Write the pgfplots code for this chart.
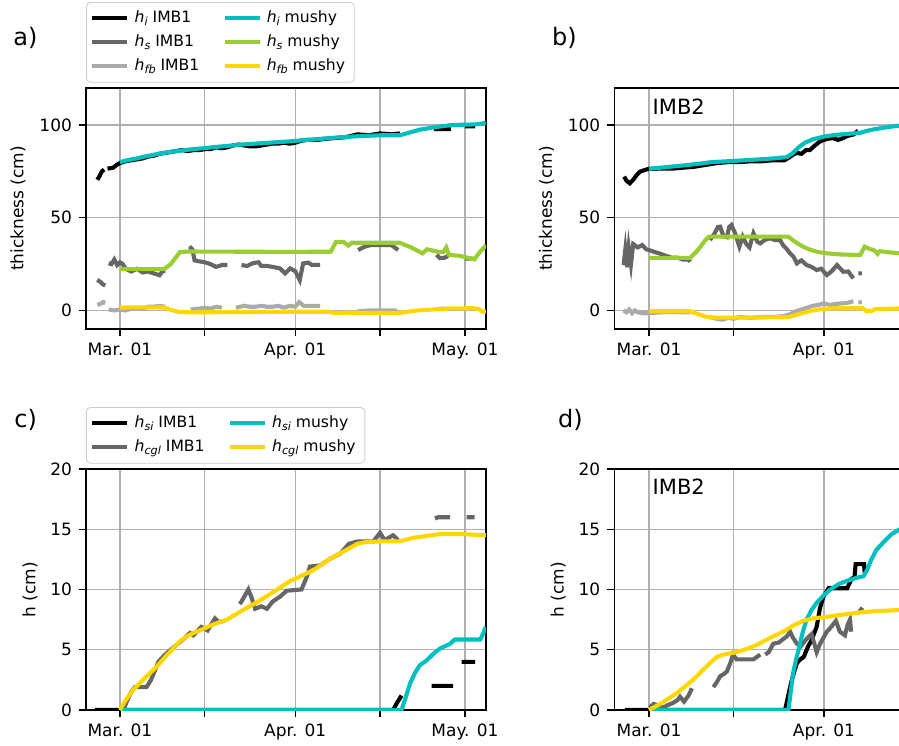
\documentclass[border=0pt]{standalone}
\usepackage{pgfplots}
\pgfplotsset{compat=1.18}
\usepackage{fontspec}
\setmainfont{DejaVu Sans}
\definecolor{imbdark}{HTML}{666666}
\definecolor{imblight}{HTML}{AAAAAA}
\definecolor{mcyan}{HTML}{00BFBF}
\definecolor{mgreen}{HTML}{9ACD32}
\definecolor{mgold}{HTML}{FFD700}
\definecolor{gridgray}{HTML}{B0B0B0}
\newcommand{\hsub}[1]{\textit{h}\raisebox{-0.3ex}{\fontsize{5.6}{6}\selectfont\textit{#1}}}
\pgfplotsset{
  mybase/.style={
    scale only axis,
    height=120.5pt,
    axis line style={line width=0.75pt},
    tick style={black, line width=0.6pt},
    tick align=outside,
    major tick length=3.5pt,
    xtick pos=lower, ytick pos=left,
    xtick={0,15,31,46,61},
    xticklabels={Mar. 01,,Apr. 01,,May. 01},
    grid=major,
    major grid style={gridgray, line width=0.7pt},
    ticklabel style={font=\fontsize{8.5}{10}\selectfont},
    label style={font=\fontsize{8.5}{10}\selectfont},
    /pgf/number format/assume math mode=true,
    unbounded coords=jump,
    every axis plot/.append style={line width=2.05pt, mark=none, forget plot},
    legend columns=2,
    legend cell align=left,
    legend style={at={(0,1)}, anchor=south west, yshift=2.7pt, draw=black!20,
      rounded corners=2pt, fill=white, font=\fontsize{7.8}{9}\selectfont,
      inner xsep=2pt, inner ysep=2.2pt, row sep=0.6pt,
      nodes={inner xsep=2.6pt},
      /tikz/every odd column/.append style={column sep=0pt},
      /tikz/every even column/.append style={column sep=9pt}},
    legend image code/.code={\draw[#1, line width=2.05pt] (0pt,0pt) -- (17.5pt,0pt);},
  },
  topax/.style={mybase, ymin=-10, ymax=120, ytick={0,50,100}, ylabel={thickness (cm)}},
  botax/.style={mybase, ymin=0, ymax=20, ytick={0,5,10,15,20}, ylabel={h (cm)}},
}
\begin{document}
\begin{tikzpicture}
\useasboundingbox (0,0) rectangle (449.5pt,372.5pt);

% ---------------- panel a ----------------
\begin{axis}[topax, at={(43pt,208pt)}, anchor=south west, width=200pt,
  xmin=-6.0, xmax=64.73,
  ylabel style={at={(axis description cs:-0.17,0.5)}, anchor=center}]
\addlegendimage{black}\addlegendentry{\hsub{i} IMB1}
\addlegendimage{mcyan}\addlegendentry{\hsub{i} mushy}
\addlegendimage{imbdark}\addlegendentry{\hsub{s} IMB1}
\addlegendimage{mgreen}\addlegendentry{\hsub{s} mushy}
\addlegendimage{imblight}\addlegendentry{\hsub{fb} IMB1}
\addlegendimage{mgold}\addlegendentry{\hsub{fb} mushy}
% h_i IMB1
\addplot[black] coordinates {(-4.0,70.5)(-3.6,72.5)(-3.2,75.0)(-2.8,76.0)(-2.5,nan)(-2.2,76.5)(-1.6,76.8)(-1.2,77.0)(-0.6,78.5)(0,79.5)(1,80.5)(2,81)(3,81.5)(4,82)(5,83)(6,83.5)(7,84.5)(8,85)(9,85.5)(10,86)(11,86.5)(12,86)(13,86.5)(14,86.5)(15,87)(16,87)(17,88)(18,87.5)(19,88)(20,89)(21,89.5)(22,89)(23,88.5)(24,88.5)(25,89)(26,89.5)(27,90)(28,90)(29,90.5)(30,90)(31,90.5)(32,91.5)(33,92)(34,92)(35,92)(36,92.5)(38,93)(40,93.5)(42,95)(44,94.5)(46,95.5)(48,95)(49.5,95.5)(52,nan)(55.5,97.8)(58.5,97.8)(60,nan)(61,99.3)(62.8,99.3)};
% h_s IMB1
\addplot[imbdark] coordinates {(-4.0,16.5)(-3.5,15.5)(-3.0,14.0)(-2.6,13.5)(-2.3,nan)(-2.0,25.5)(-1.5,25.0)(-1.0,27.5)(-0.5,24.5)(0,26.0)(0.5,25.0)(1,22.5)(2,21)(3,22.5)(4,20.5)(5,21)(6,20)(7,19)(7.5,21)(8,21.5)(10,nan)(12.3,34.5)(12.8,33)(13.2,27)(14,26.5)(15,26)(16,25)(17,23.5)(18,24.5)(19,24.5)(20,nan)(21.5,24.5)(22.5,24)(23.5,25.5)(24.5,26)(25,24)(26,24)(27,23.5)(28.3,22.7)(29.2,20)(30.1,22.7)(31.0,21.2)(31.8,16.4)(32.4,25.4)(33.3,25.8)(33.9,24.6)(35.4,24.6)(38,nan)(42.1,32.6)(43.5,34.7)(44.5,35.3)(46,35.3)(48,35.3)(49.2,32.6)(52,nan)(56,30)(56.6,28.2)(57.5,28.5)(58,29.5)(59,nan)(61,28)(62.5,28)};
% h_fb IMB1
\addplot[imblight] coordinates {(-4,3.0)(-3.5,3.5)(-3,4.5)(-2.6,4.0)(-2.3,nan)(-2,0.5)(-1,0)(0,0.5)(1,0)(2,1)(3,1.5)(4,1)(5,2)(6,2)(7,2.5)(8,2)(10,nan)(12.5,0.5)(14,1)(15,1.5)(16,1)(17,2)(18,1.5)(19,nan)(20.5,1.5)(22,2.5)(23,2)(24,2)(25,2.5)(26,2)(27,2)(28,2.5)(29,1.5)(30,2.5)(31,2)(31.7,4.5)(32.5,2.5)(33.5,2.5)(35.4,2.5)(38,nan)(42,-0.5)(44,0)(46,0)(48,0)(49,0)(52,nan)(56,0.8)(57.5,1)(59,nan)(61,1)(62.5,1.2)};
% mushy
\addplot[mcyan] coordinates {(0,80)(1,80.8)(2,81.5)(3,82)(4,82.8)(5,83.4)(7,84.6)(10,86)(13,87)(15,87.6)(18,88.5)(22,89.6)(26,90.4)(30,91.2)(34,92.2)(38,93.2)(42,94)(46,94.5)(49.5,94.5)(51,95.8)(53,97.5)(55,98.5)(57,99.4)(59,100.1)(61,100.2)(63,100.4)(64,100.8)(64.7,101.3)};
\addplot[mgreen] coordinates {(0,22.3)(7.8,22.3)(9,25)(10.6,31.5)(12,31.8)(20,31.7)(30,31.6)(37.3,31.7)(38.2,37)(39.5,37)(40.4,35)(41,36.5)(44,36.5)(49.5,36.5)(51.5,34)(53.5,30.8)(54.3,33)(55,32.5)(56.5,31.5)(57.2,31.5)(57.7,34)(58.2,30)(60,29.5)(62.7,27.6)(63.5,31)(64.5,34.4)(64.7,33.8)};
\addplot[mgold] coordinates {(0,1.6)(4,1.7)(7.8,1.6)(9,0.3)(10.6,-0.9)(13,-1)(20,-0.9)(30,-0.7)(37,-0.7)(38,-1.4)(40,-1.2)(44,-1.3)(49.5,-1.3)(52,-0.2)(54,0.3)(56,0.6)(57.5,0.7)(58,1.1)(62.5,1.2)(63.5,0.8)(64,-0.5)(64.7,-0.7)};
\end{axis}

% ---------------- panel b ----------------
\begin{axis}[topax, at={(307.15pt,208pt)}, anchor=south west, width=143.35pt,
  xmin=-6.15, xmax=44.64,
  ylabel style={at={(axis description cs:-0.236,0.5)}, anchor=center}]
\addplot[black] coordinates {(-4.4,72.2)(-4.0,70)(-3.4,68.6)(-2.8,70.5)(-2.2,73)(-1.6,74.9)(-1.0,75.5)(-0.5,76)(0,76.4)(2,76.5)(4,76.5)(6,77)(8,77.5)(10,78.5)(12,79.5)(14,80)(16,80)(18,80.5)(20,80.5)(22,81)(24,81)(24.8,82.5)(25.5,84)(26.2,85)(27,84.5)(27.8,86.5)(28.5,86.5)(29.2,88.5)(30,90.5)(30.5,91.5)(31.5,92.5)(32.5,93)(33.5,92)(34.4,93)(35,94)(35.6,94.5)(36.3,95)(37,97)};
\addplot[imbdark] coordinates {(-4.5,24.5)(-4.2,32.8)(-3.9,23.4)(-3.6,33.9)(-3.2,24.8)(-2.8,35.8)(-2.0,34)(-1.2,35.3)(-0.5,33)(0,32.6)(1,31.5)(1.9,30.7)(3,29.5)(4,28.5)(5,28.5)(6,27.5)(7,27.5)(7.3,26.3)(9,nan)(10.8,38)(11.5,41)(12.2,45)(12.6,45.2)(13.2,40)(13.8,39.5)(14.2,45)(14.6,46.1)(15.2,42)(16,34.4)(16.6,39.8)(17.2,36)(17.8,34)(18.5,41.6)(19.2,37)(19.7,36.2)(20.5,38)(21.4,38.9)(22.3,38)(23.2,38)(23.8,35)(24.3,33.5)(25,30.8)(25.6,29)(26.2,25.4)(27,27)(27.9,24.5)(28.8,23.5)(29.7,21.8)(30.5,22.5)(31.5,19.1)(32.3,21)(33.3,24.5)(34.4,20.9)(35.3,21)(36.2,17.3)(36.6,nan)(37.1,20)(37.7,20)};
\addplot[imblight] coordinates {(-4.5,0)(-4,-1)(-3.5,0.5)(-3,-1.5)(-2.5,0)(-2,-1)(-1,-1.5)(0,-1.5)(2,-1)(4,-0.8)(6,-1)(7.3,-1)(9,nan)(10.8,-3.5)(12,-4.5)(13,-5)(14,-4)(15,-4.5)(16,-3.5)(18,-4)(20,-3.5)(22,-3.5)(24,-3)(25,-2)(26,-0.5)(27,0.5)(28,1.5)(29,2.5)(30,3)(31,3.8)(32,3)(33,3.5)(34,3.8)(35,4)(36.2,5)(36.6,nan)(37.1,4.4)(37.7,4.4)};
\addplot[mcyan] coordinates {(0,76.4)(3,77.3)(6,78.2)(9,79.2)(11,80)(14,80.5)(18,81.2)(22,82)(24.4,82.7)(25.5,85)(26.5,88)(27.5,90.3)(29,92.3)(31,93.8)(33,94.7)(35,95.2)(37.4,95.8)(38.5,96.8)(40,97.8)(42,98.8)(44.6,99.8)};
\addplot[mgreen] coordinates {(0,28.4)(7.3,28.4)(8.5,32)(10,38)(10.6,39.8)(15,39.8)(20,39.8)(24.7,39.8)(25.5,37.8)(26.5,35.8)(27.3,34.4)(28.5,32.8)(30,31.5)(31.5,30.8)(34,30.2)(37.4,29.9)(38.2,34.4)(39,33.3)(39.8,32.5)(40.2,31.7)(40.5,30.5)(40.9,32)(42,31.5)(44.6,30.8)};
\addplot[mgold] coordinates {(0,-0.4)(4,-0.4)(7.3,-0.4)(8.5,-1.8)(10,-3.3)(10.8,-3.8)(15,-3.9)(20,-3.8)(24.7,-3.6)(26.5,-2)(28.5,-0.3)(30,0.5)(31.5,1)(33,1.2)(37.9,1.2)(38.5,-0.3)(39.5,-0.2)(40,0.7)(42,0.9)(44.6,1.1)};
\end{axis}

% ---------------- panel c ----------------
\begin{axis}[botax, at={(43pt,17.5pt)}, anchor=south west, width=200pt,
  xmin=-6.0, xmax=64.73,
  ylabel style={at={(axis description cs:-0.14,0.5)}, anchor=center}]
\addlegendimage{black}\addlegendentry{\hsub{si} IMB1}
\addlegendimage{mcyan}\addlegendentry{\hsub{si} mushy}
\addlegendimage{imbdark}\addlegendentry{\hsub{cgl} IMB1}
\addlegendimage{mgold}\addlegendentry{\hsub{cgl} mushy}
\addplot[black] coordinates {(-4.4,0)(48.3,0)(49,0.6)(49.8,1.2)(52,nan)(55.1,2)(58.9,2)(59.5,nan)(60.4,4)(62.8,4)};
\addplot[imbdark] coordinates {(0.6,0)(1.3,0.8)(2,1.5)(2.65,1.9)(4.7,1.9)(5.5,2.5)(6.2,3.3)(6.8,4)(8,4.6)(10,5.4)(11.5,6.0)(12.4,6.4)(13,6.2)(14.4,6.9)(15.5,6.6)(16.8,7.6)(17.5,7.3)(18.5,7.4)(20,nan)(21.2,8.8)(21.5,9)(22.7,10)(23.3,9.3)(23.9,8.4)(25,8.6)(26,8.4)(27,9)(28.3,9.4)(29.5,9.9)(32.1,10)(33,11)(33.6,11.9)(35.4,12)(37,12.5)(39,13)(40.5,13.8)(42.1,14)(44.8,14)(46,14.7)(46.8,14.1)(48.3,14.5)(49.2,14.1)(52,nan)(55.7,15.9)(56.3,16)(58.4,16)(60,nan)(61.3,16)(62.7,16)};
\addplot[mcyan] coordinates {(0,0)(49.8,0)(50.5,1)(51.3,2.2)(52.2,3.1)(53,3.7)(54.2,4.1)(55.5,4.7)(56.6,5.1)(57.5,5.3)(58.4,5.5)(59.2,5.85)(63.7,5.85)(64.2,6.3)(64.7,6.9)};
\addplot[mgold] coordinates {(0,0)(1,0.8)(2.4,1.7)(4.5,2.7)(6.5,3.6)(8,4.4)(9.4,5.1)(10.6,5.7)(11.8,6.1)(13,6.4)(14.1,6.6)(16.5,7.1)(18.9,7.5)(21.8,8.3)(24.8,9.1)(27.5,9.9)(30.1,10.7)(34.2,11.6)(37,12.5)(40.1,13.3)(42,13.8)(43.6,13.95)(47,14)(49.5,14)(52,14.3)(56.6,14.6)(60.5,14.6)(64.7,14.5)};
\end{axis}

% ---------------- panel d ----------------
\begin{axis}[botax, at={(307.15pt,17.5pt)}, anchor=south west, width=143.35pt,
  xmin=-6.15, xmax=44.64,
  ylabel style={at={(axis description cs:-0.195,0.5)}, anchor=center}]
\addplot[black] coordinates {(-4.3,0)(24.1,0)(24.8,1.5)(25.3,2.5)(25.8,3.3)(26.2,3.9)(26.8,4.2)(27.4,4.4)(28.2,5.3)(28.8,5.8)(29.2,6.3)(29.7,6.9)(30.3,8.5)(30.9,9.4)(31.8,10.1)(35.1,10.1)(35.9,10.9)(36.4,11)(36.6,12.1)(38.1,12.1)(38.2,11.4)};
\addplot[imbdark] coordinates {(0.1,0.2)(0.8,0.5)(1.5,0.4)(2.5,0.2)(3.3,0.4)(4.3,0.6)(5,0.8)(5.5,1.1)(6.2,0.7)(7.0,1.2)(7.6,1.8)(9,nan)(11.4,1.9)(12,2.3)(12.6,2.8)(13.3,3.0)(13.8,3.2)(14.4,3.9)(14.9,4.6)(15.5,4.2)(17,4.2)(18.5,4.2)(19.1,4.4)(19.7,4.6)(20.1,nan)(20.6,4.6)(21.2,4.8)(22,5.5)(23,5.6)(23.8,5.9)(24.4,6.1)(25,6.5)(25.5,6.0)(26.2,5.5)(26.9,5.3)(27.9,5.9)(28.8,6.3)(29.7,4.8)(30.3,5.5)(30.9,6.0)(31.5,6.5)(32.1,6.8)(33.1,7.4)(33.8,6.5)(34.7,6.2)(35.2,7.1)(35.6,7.5)(35.8,6.5)(36.5,nan)(37.2,8.1)(37.8,8.5)};
\addplot[mcyan] coordinates {(0,0)(24.7,0)(25.1,1.5)(25.5,3.0)(26,4.1)(26.5,5.0)(27.2,6.4)(27.9,7.5)(28.8,8.3)(29.7,8.9)(30.9,9.5)(32.1,10)(33.8,10.5)(35.6,10.8)(37,11)(38,11.1)(38.6,11.6)(39.4,12.5)(40.3,13.3)(41.9,14.1)(43,14.6)(44.6,15.05)};
\addplot[mgold] coordinates {(0,0)(2,0.5)(4.9,1.4)(6.5,2)(7.8,2.5)(9.5,3.3)(10.8,3.9)(12,4.4)(13.2,4.6)(15.5,4.8)(17.5,5.1)(19.1,5.4)(21.5,6)(23.8,6.5)(25.5,7)(27.3,7.4)(29,7.6)(30.9,7.7)(34,7.9)(37.4,8.1)(40,8.2)(44.6,8.3)};
\end{axis}

% panel letters and annotations
\node[anchor=west, font=\fontsize{12}{14}\selectfont, inner sep=0pt] at (6.5pt,353.5pt) {a)};
\node[anchor=west, font=\fontsize{12}{14}\selectfont, inner sep=0pt] at (275.85pt,353.5pt) {b)};
\node[anchor=west, font=\fontsize{12}{14}\selectfont, inner sep=0pt] at (7pt,162.5pt) {c)};
\node[anchor=west, font=\fontsize{12}{14}\selectfont, inner sep=0pt] at (278.85pt,162.5pt) {d)};
\node[anchor=west, font=\fontsize{10.5}{12}\selectfont, inner sep=0pt] at (326.15pt,319.15pt) {IMB2};
\node[anchor=west, font=\fontsize{10.5}{12}\selectfont, inner sep=0pt] at (326.15pt,129.15pt) {IMB2};
\end{tikzpicture}
\end{document}
